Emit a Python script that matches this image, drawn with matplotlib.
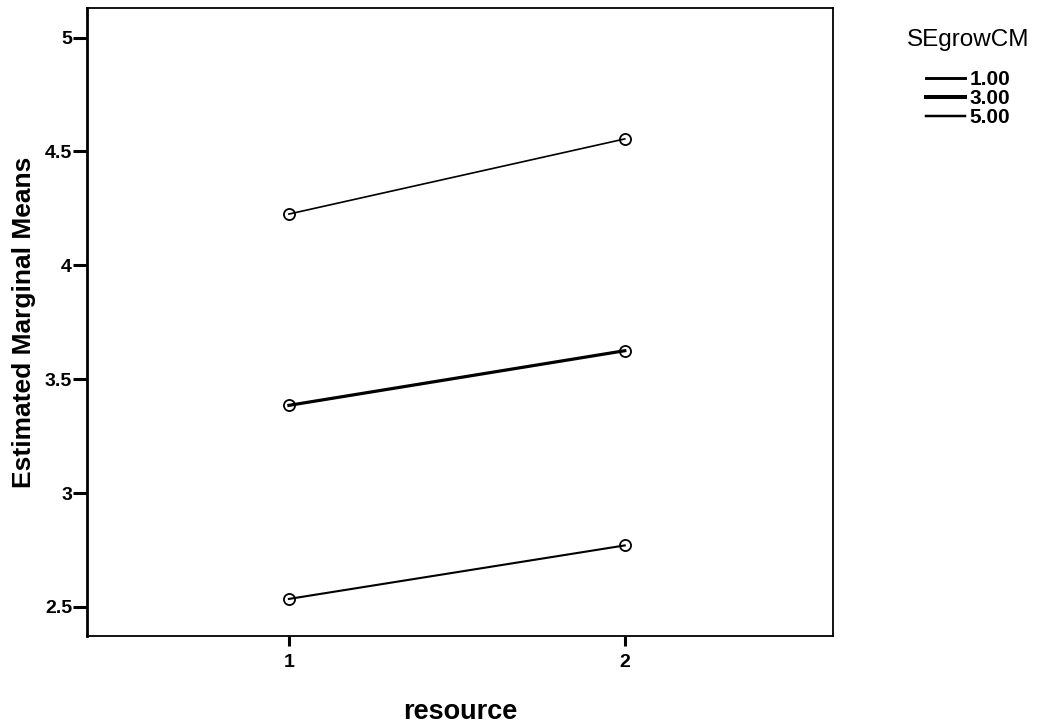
import matplotlib
matplotlib.use("Agg")
import matplotlib.pyplot as plt
from matplotlib.lines import Line2D

plt.rcParams['font.family'] = ['Liberation Sans', 'DejaVu Sans']

# -----------------------
# Data
# -----------------------
resource = [1, 2]
group_labels = ["1.00", "3.00", "5.00"]
means_100 = [2.535, 2.77]
means_300 = [3.385, 3.625]
means_500 = [4.225, 4.555]
series = [means_100, means_300, means_500]
widths = [1.5, 2.3, 1.2]

# -----------------------
# Plot
# -----------------------
fig = plt.figure(figsize=(10.4, 7.25), dpi=100)
ax = fig.add_axes([0.084, 0.123, 0.717, 0.866])

for vals, lw in zip(series, widths):
    ax.plot(resource, vals, color='black', linewidth=lw, marker='o',
            markersize=8, markerfacecolor='none', markeredgecolor='black',
            markeredgewidth=1.3)

ax.set_xlim(0.40, 2.62)
ax.set_ylim(2.373, 5.13)
ax.set_xticks([1, 2])
ax.set_yticks([2.5, 3, 3.5, 4, 4.5, 5])
ax.set_yticklabels(["2.5", "3", "3.5", "4", "4.5", "5"])
ax.tick_params(axis='y', direction='out', length=10, width=2.2,
               labelsize=14, pad=1)
ax.tick_params(axis='x', direction='out', length=7, width=2.2,
               labelsize=14, pad=6)
for lab in ax.get_xticklabels() + ax.get_yticklabels():
    lab.set_fontweight('bold')
for sp in ax.spines.values():
    sp.set_linewidth(1.3)
ax.spines['left'].set_linewidth(2)

ax.set_xlabel("resource", fontsize=19.5, fontweight='bold', labelpad=20)
ax.set_ylabel("Estimated Marginal Means", fontsize=19, fontweight='bold',
              labelpad=6)

handles = [Line2D([0], [0], color='black', linewidth=lw + 0.6) for lw in widths]
leg = fig.legend(handles, group_labels, title="SEgrowCM",
                 loc='upper center', bbox_to_anchor=(0.931, 0.975),
                 frameon=False, fontsize=15, title_fontsize=17.5,
                 borderpad=0, handlelength=1.85, handletextpad=0.25,
                 labelspacing=0.0)
leg._legend_box.align = "center"
leg._legend_box.sep = 14
for t in leg.get_texts():
    t.set_fontweight('bold')

fig.savefig("out.png", dpi=100)
